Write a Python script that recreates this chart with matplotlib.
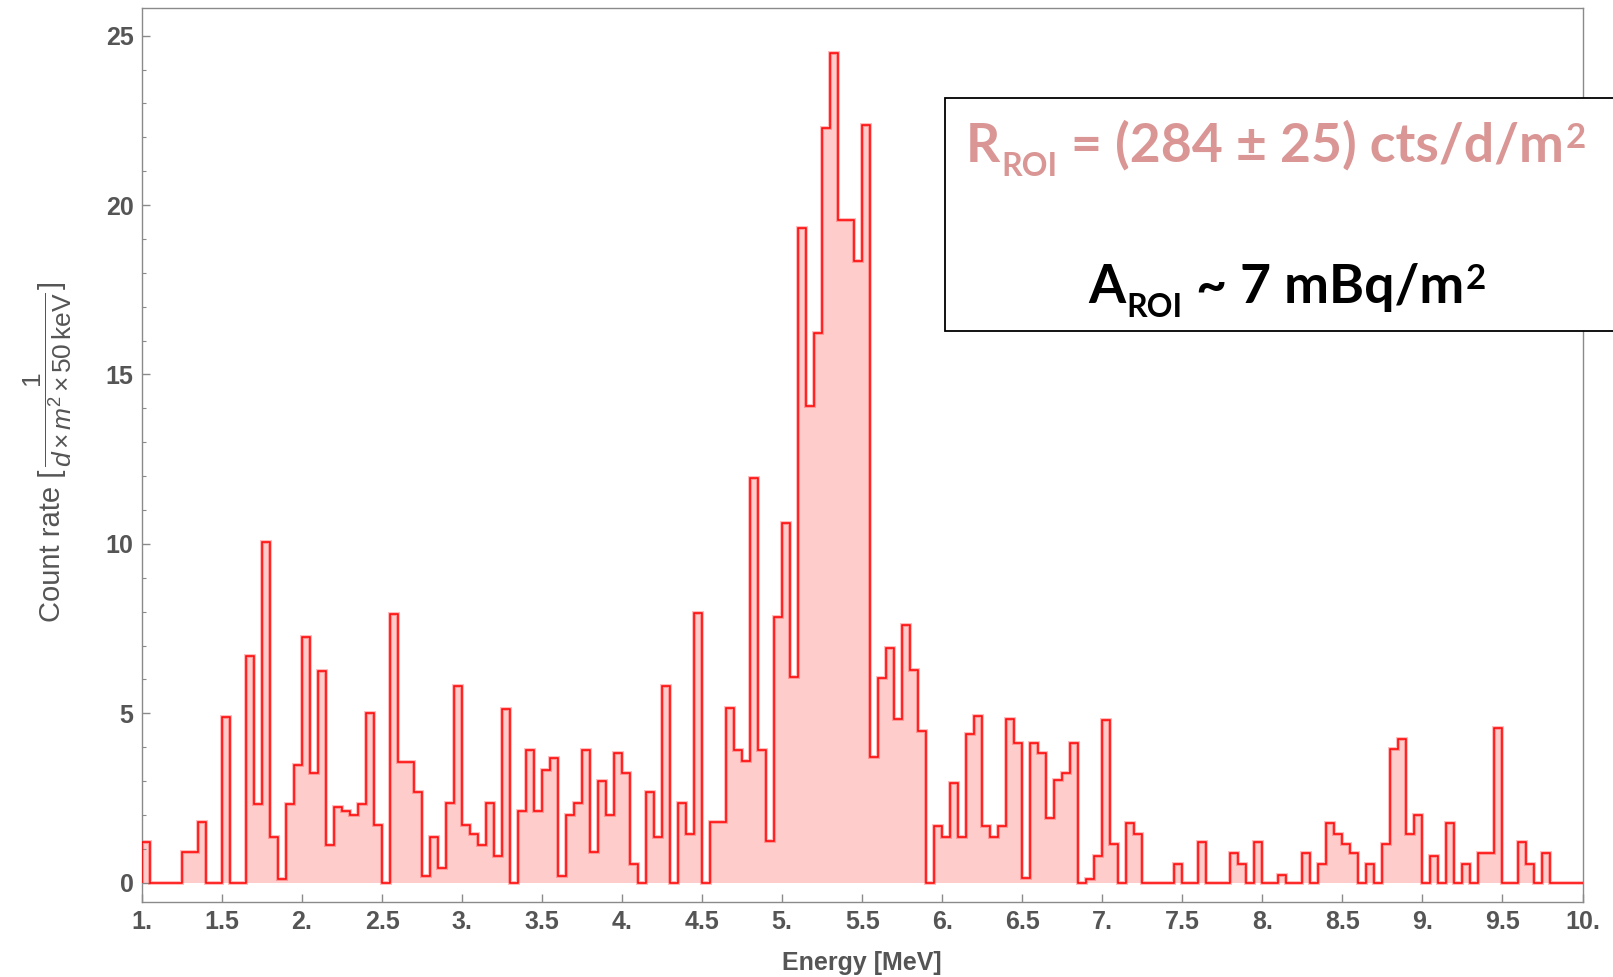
import numpy as np
import matplotlib
matplotlib.use("Agg")
import matplotlib.pyplot as plt
from matplotlib.patches import Rectangle
from matplotlib.ticker import MultipleLocator, FixedLocator

# ---------------- data ----------------
# Energy binning: 50 keV bins from 1.0 to 10.0 MeV
e_min, e_max, n_bins = 1.0, 10.0, 180

# count rate per bin [1/(d m^2 50 keV)]
rate_1p0_2p5 = [1.2, 0, 0, 0, 0, 0.9, 0.9, 1.78, 0, 0,
                4.9, 0, 0, 6.7, 2.33, 10.05, 1.35, 0.12, 2.33, 3.47,
                7.25, 3.23, 6.26, 1.11, 2.24, 2.13, 2.0, 2.33, 5.02, 1.69]
rate_2p5_4p0 = [0, 7.92, 3.57, 3.57, 2.67, 0.21, 1.34, 0.44, 2.34, 5.80,
                1.69, 1.45, 1.10, 2.34, 0.79, 5.14, 0, 2.13, 3.91, 2.13,
                3.33, 3.68, 0.21, 2.0, 2.35, 3.91, 0.9, 3.01, 2.0, 3.82]
rate_4p0_5p5 = [3.25, 0.55, 0, 2.68, 1.36, 5.81, 0, 2.34, 1.44, 7.95,
                0, 1.78, 1.78, 5.15, 3.92, 3.59, 11.94, 3.92, 1.24, 7.83,
                10.61, 6.06, 19.33, 14.08, 16.22, 22.26, 24.49, 19.56, 19.56, 18.36]
rate_5p5_7p0 = [22.35, 3.72, 6.03, 6.94, 4.82, 7.61, 6.28, 4.48, 0, 1.68,
                1.35, 2.93, 1.35, 4.38, 4.93, 1.68, 1.35, 1.68, 4.82, 4.13,
                0.13, 4.13, 3.82, 1.91, 3.03, 3.25, 4.13, 0, 0.12, 0.79]
rate_7p0_8p5 = [4.80, 1.13, 0, 1.77, 1.44, 0, 0, 0, 0, 0.55,
                0, 0, 1.2, 0, 0, 0, 0.89, 0.55, 0, 1.2,
                0, 0, 0.22, 0, 0, 0.89, 0, 0.55, 1.77, 1.44]
rate_8p5_10p0 = [1.13, 0.89, 0, 0.55, 0, 1.13, 3.94, 4.23, 1.44, 2.01,
                 0, 0.79, 0, 1.77, 0, 0.55, 0, 0.89, 0.89, 4.56,
                 0, 0, 1.2, 0.55, 0, 0.89, 0, 0, 0, 0]

x_ticks = [1.0, 1.5, 2.0, 2.5, 3.0, 3.5, 4.0, 4.5, 5.0, 5.5,
           6.0, 6.5, 7.0, 7.5, 8.0, 8.5, 9.0, 9.5, 10.0]
x_tick_labels = ['1.', '1.5', '2.', '2.5', '3.', '3.5', '4.', '4.5', '5.', '5.5',
                 '6.', '6.5', '7.', '7.5', '8.', '8.5', '9.', '9.5', '10.']
y_ticks = [0, 5, 10, 15, 20, 25]
y_tick_labels = ['0', '5', '10', '15', '20', '25']

rate = np.array(rate_1p0_2p5 + rate_2p5_4p0 + rate_4p0_5p5 +
                rate_5p5_7p0 + rate_7p0_8p5 + rate_8p5_10p0)
edges = np.linspace(e_min, e_max, n_bins + 1)

# ---------------- style ----------------
plt.rcParams['font.family'] = ['Liberation Sans', 'DejaVu Sans']
plt.rcParams['mathtext.fontset'] = 'custom'
plt.rcParams['mathtext.rm'] = 'Liberation Sans'
plt.rcParams['mathtext.it'] = 'Liberation Sans:italic'
plt.rcParams['mathtext.bf'] = 'Liberation Sans:bold'

W, H = 1613, 977
fig = plt.figure(figsize=(W / 100, H / 100), dpi=100)
ax_l, ax_r, ax_t, ax_b = 142, 1582.5, 7.5, 901.7
ax = fig.add_axes([ax_l / W, 1 - ax_b / H, (ax_r - ax_l) / W, (ax_b - ax_t) / H])

gray = '#555555'
frame = '#8a8a8a'

ax.stairs(rate, edges, baseline=0, fill=True, facecolor='#FFCCCC',
          edgecolor='none', zorder=1)
ax.stairs(rate, edges, baseline=0, fill=False, color='#FF0000',
          linewidth=2.8, alpha=0.28, zorder=2)
ax.stairs(rate, edges, baseline=0, fill=False, color='#FF0000',
          linewidth=1.1, zorder=3)

ax.set_xlim(e_min, e_max)
ax.set_ylim(-0.56, 25.83)

for sp in ax.spines.values():
    sp.set_color(frame)
    sp.set_linewidth(1.0)

ax.xaxis.set_major_locator(FixedLocator(x_ticks))
ax.set_xticklabels(x_tick_labels, fontsize=18, fontweight='bold', color=gray)
ax.yaxis.set_major_locator(FixedLocator(y_ticks))
ax.set_yticklabels(y_tick_labels, fontsize=18, fontweight='bold', color=gray)
ax.yaxis.set_minor_locator(MultipleLocator(1))
ax.tick_params(axis='both', which='both', direction='in', color=frame,
               top=False, right=False)
ax.tick_params(axis='both', which='major', length=6, width=1.0)
ax.tick_params(axis='y', which='minor', length=3, width=0.8)
ax.tick_params(axis='y', which='major', pad=6)
ax.tick_params(axis='x', which='major', pad=6)

ax.set_xlabel('Energy [MeV]', fontsize=18, fontweight='bold', color=gray)
ax.xaxis.label.set_verticalalignment('center')
ax.xaxis.set_label_coords(0.5, (ax_b - 963) / (ax_b - ax_t))

renderer = fig.canvas.get_renderer()

# y label (rotated), built from three pieces so the fraction can be smaller
lab_a = fig.text(60 / W, 1 - 622 / H, 'Count rate [', rotation=90,
                 rotation_mode='anchor', ha='left', va='baseline',
                 fontsize=21, color=gray)
top_a = lab_a.get_window_extent(renderer).y1
lab_b = fig.text(48 / W, (top_a + 3) / H,
                 r'$\dfrac{1}{d\,{\times}\,m^{2}\,{\times}\,50\,\mathrm{keV}}$',
                 rotation=90, rotation_mode='anchor', ha='left', va='center',
                 fontsize=19, color=gray, math_fontfamily='custom')
top_b = lab_b.get_window_extent(renderer).y1
fig.text(60 / W, (top_b + 3) / H, ']', rotation=90, rotation_mode='anchor',
         ha='left', va='baseline', fontsize=21, color=gray)

# annotation box
box_l, box_t, box_b = 945, 98.3, 331
fig.add_artist(Rectangle((box_l / W, 1 - box_b / H), (W + 20 - box_l) / W,
                         (box_b - box_t) / H, transform=fig.transFigure,
                         facecolor='white', edgecolor='black', linewidth=1.3,
                         zorder=5))


def place_segments(x_px, base_px, segments, color):
    """Write text pieces left to right; (text, size, downward offset px)."""
    for txt, size, dy in segments:
        t = fig.text(x_px / W, 1 - (base_px + dy) / H, txt, ha='left',
                     va='baseline', fontsize=size, fontweight='bold',
                     family='Lato', color=color, zorder=6)
        x_px += t.get_window_extent(renderer).width + 1


main_fs, sub_fs, sup_fs = 38.5, 23, 25
place_segments(966, 162, [('R', main_fs, 0), ('ROI', sub_fs, 14),
                          (' = (284 ± 25) cts/d/m', main_fs, 0),
                          ('2', sup_fs, -14)], '#D99694')
place_segments(1088, 302.7, [('A', main_fs, 0), ('ROI', sub_fs, 14),
                             (' ~ 7 mBq/m', main_fs, 0),
                             ('2', sup_fs, -14)], 'black')

fig.savefig('out.png', dpi=100)
